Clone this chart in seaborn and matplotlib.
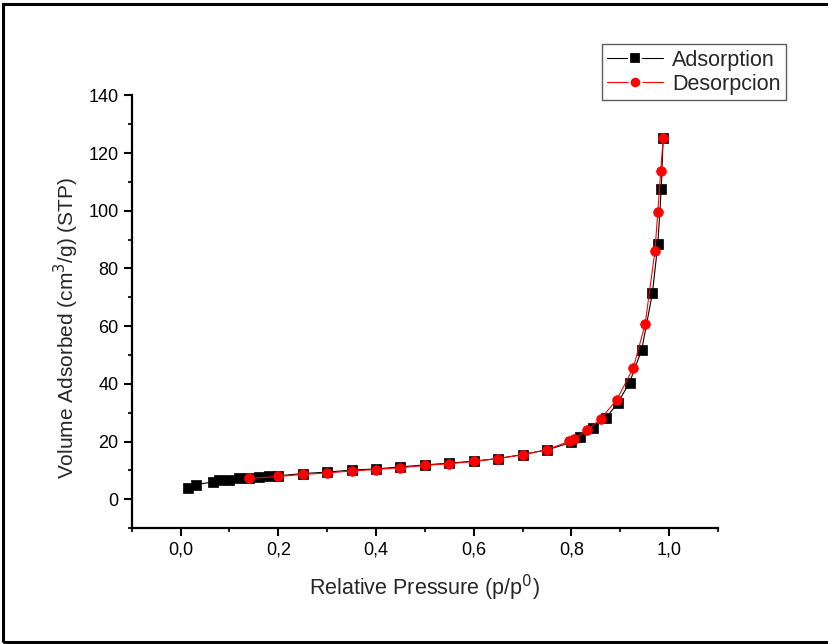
import matplotlib
matplotlib.use("Agg")
import matplotlib.pyplot as plt
import seaborn as sns
import pandas as pd
from matplotlib.ticker import MultipleLocator, FuncFormatter
from matplotlib.patches import Rectangle

# Data
x_ads = [0.015, 0.032, 0.067, 0.079, 0.10, 0.12, 0.14, 0.161, 0.18, 0.20, 0.25, 0.30,
         0.35, 0.40, 0.45, 0.50, 0.55, 0.60, 0.65, 0.70, 0.75, 0.80, 0.818, 0.845,
         0.871, 0.895, 0.919, 0.944, 0.966, 0.977, 0.984, 0.988]
y_ads = [3.9, 5.1, 6.0, 6.5, 6.8, 7.2, 7.4, 7.8, 7.9, 8.1, 8.9, 9.4,
         10.1, 10.5, 11.2, 11.9, 12.5, 13.2, 14.1, 15.5, 17.1, 19.7, 21.5, 24.6,
         28.2, 33.4, 40.4, 51.8, 71.5, 88.5, 107.6, 125.3]

x_des = [0.988, 0.983, 0.977, 0.971, 0.951, 0.927, 0.893, 0.86, 0.832, 0.805, 0.796,
         0.75, 0.70, 0.65, 0.60, 0.55, 0.50, 0.45, 0.40, 0.35, 0.30, 0.25, 0.20, 0.139]
y_des = [125.3, 113.9, 99.7, 85.9, 60.7, 45.6, 34.5, 27.9, 23.9, 20.9, 20.1,
         17.2, 15.4, 14.1, 13.1, 12.3, 11.7, 10.9, 10.3, 9.8, 9.1, 8.6, 7.9, 7.2]

labels = ["Adsorption", "Desorpcion"]

sns.set_style("ticks")
plt.rcParams['font.family'] = ['Liberation Sans', 'DejaVu Sans']

fig = plt.figure(figsize=(8.29, 6.44), dpi=100)
ax = fig.add_axes([0.159, 0.180, 0.707, 0.672])

df_a = pd.DataFrame({"x": x_ads, "y": y_ads})
df_d = pd.DataFrame({"x": x_des, "y": y_des})

sns.lineplot(data=df_a, x="x", y="y", ax=ax, sort=False, color="black", lw=0.8,
             marker="s", markersize=6.5, markeredgecolor="black", markeredgewidth=0.5,
             label=labels[0])
sns.lineplot(data=df_d, x="x", y="y", ax=ax, sort=False, color="red", lw=0.8,
             marker="o", markersize=7, markeredgecolor="red", markeredgewidth=0.5,
             label=labels[1])

ax.set_xlim(-0.1, 1.1)
ax.set_ylim(-10, 140)
ax.xaxis.set_major_locator(MultipleLocator(0.2))
ax.xaxis.set_minor_locator(MultipleLocator(0.1))
ax.yaxis.set_major_locator(MultipleLocator(20))
ax.yaxis.set_minor_locator(MultipleLocator(10))
ax.xaxis.set_major_formatter(FuncFormatter(lambda v, p: f"{v:.1f}".replace(".", ",")))
ax.yaxis.set_major_formatter(FuncFormatter(lambda v, p: f"{v:.0f}"))
ax.set_xticks([0.0, 0.2, 0.4, 0.6, 0.8, 1.0])
ax.set_yticks([0, 20, 40, 60, 80, 100, 120, 140])

for s in ["top", "right"]:
    ax.spines[s].set_visible(False)
for s in ["left", "bottom"]:
    ax.spines[s].set_linewidth(1.6)
    ax.spines[s].set_color("black")

ax.tick_params(axis="both", which="major", direction="out", length=6, width=1.5,
               labelsize=13, colors="black", pad=3.5)
ax.tick_params(axis="both", which="minor", direction="out", length=3, width=1.5)

ax.set_xlabel("Relative Pressure (p/p$^0$)", fontsize=15.5, labelpad=10.5)
ax.set_ylabel("Volume Adsorbed (cm$^3$/g) (STP)", fontsize=15)
ax.yaxis.set_label_coords(-0.087, 0.462)

leg = ax.legend(loc="upper left", bbox_to_anchor=(0.802, 1.118), frameon=True,
                fontsize=15.5, handlelength=2.6, handletextpad=0.4, borderpad=0.25,
                labelspacing=0.15, fancybox=False, borderaxespad=0)
leg.get_frame().set_edgecolor("#333333")
leg.get_frame().set_linewidth(1.0)
for h, ms in zip(leg.legend_handles, [8, 8.5]):
    h.set_markeredgecolor("white")
    h.set_markeredgewidth(1.6)
    h.set_markersize(ms)

# outer frame
fig.patches.append(Rectangle((3.5 / 829, 2.5 / 644), 1.1, (641.5 - 3.5) / 644,
                             transform=fig.transFigure, fill=False,
                             edgecolor="black", linewidth=2.2, clip_on=False))

fig.savefig("out.png", dpi=100)
